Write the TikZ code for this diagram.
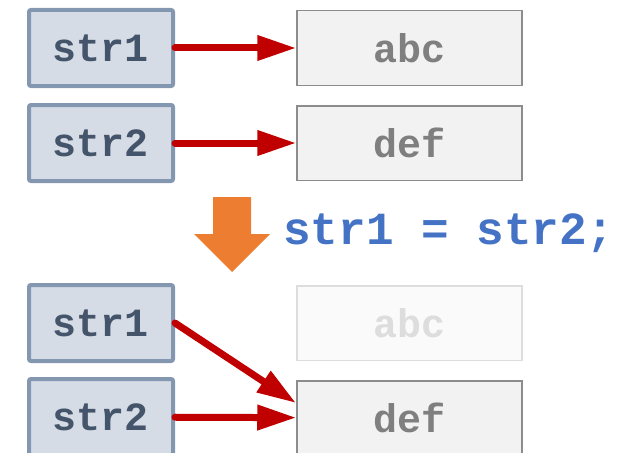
\documentclass[tikz,border=0pt]{standalone}
\usepackage{xcolor}
\usepackage{fontspec}
\usepackage{tikz}
\usetikzlibrary{arrows, arrows.meta}
\newfontfamily\codefont{Liberation Mono}
\definecolor{varfill}{HTML}{D6DCE5}
\definecolor{varline}{HTML}{8497B0}
\definecolor{vartext}{HTML}{44546A}
\definecolor{valfill}{HTML}{F2F2F2}
\definecolor{valline}{HTML}{8C8C8C}
\definecolor{valtext}{HTML}{7F7F7F}
\definecolor{oldline}{HTML}{DDDDDD}
\definecolor{oldfill}{HTML}{FAFAFA}
\definecolor{ptrred}{HTML}{C00000}
\definecolor{stepor}{HTML}{ED7D31}
\definecolor{codeblue}{HTML}{4472C4}

\begin{document}
\begin{tikzpicture}[x=1pt, y=-1pt]
\tikzstyle{var}=[rectangle, rounded corners=2pt, draw=varline, fill=varfill, line width=4pt, minimum width=144pt, minimum height=76pt, inner sep=0pt, text=vartext, font=\codefont\bfseries\fontsize{40}{40}\selectfont]
\tikzstyle{val}=[rectangle, draw=valline, fill=valfill, line width=1.5pt, minimum width=225pt, minimum height=74.5pt, inner sep=0pt, text=valtext, font=\codefont\bfseries\fontsize{40}{40}\selectfont]
\tikzstyle{old}=[val, draw=oldline, fill=oldfill, text=oldline]
\tikzstyle{ptr}=[color=ptrred, line width=7pt, line cap=round, -{Triangle[length=39pt, width=24pt]}]
\useasboundingbox (0,0) rectangle (636,452);
\clip (0,0) rectangle (636,452);

% before
\node[var] (s1) at (101,48) {str1};
\node[var] (s2) at (101,143) {str2};
\node[val] (abc) at (409.5,48) {abc};
\node[val] (def) at (409.5,143) {def};

% step
\fill[stepor] (213,197) -- (251,197) -- (251,234) -- (270,234) -- (232,272) -- (194,234) -- (213,234) -- cycle;
\node[anchor=west, text=codeblue, font=\codefont\bfseries\fontsize{46}{46}\selectfont, inner sep=0pt] (code) at (283,233) {str1 = str2;};

% after
\node[var] (t1) at (101,323) {str1};
\node[var] (t2) at (101,417) {str2};
\node[old] (oabc) at (409.5,323) {abc};
\node[val] (ndef) at (409.5,418) {def};
\coordinate (hit) at (296,403);

\path[ptr]
(s1) edge (abc)
(s2) edge (def)
(t1.east) edge (hit)
(t2) edge (ndef);

\end{tikzpicture}
\end{document}
